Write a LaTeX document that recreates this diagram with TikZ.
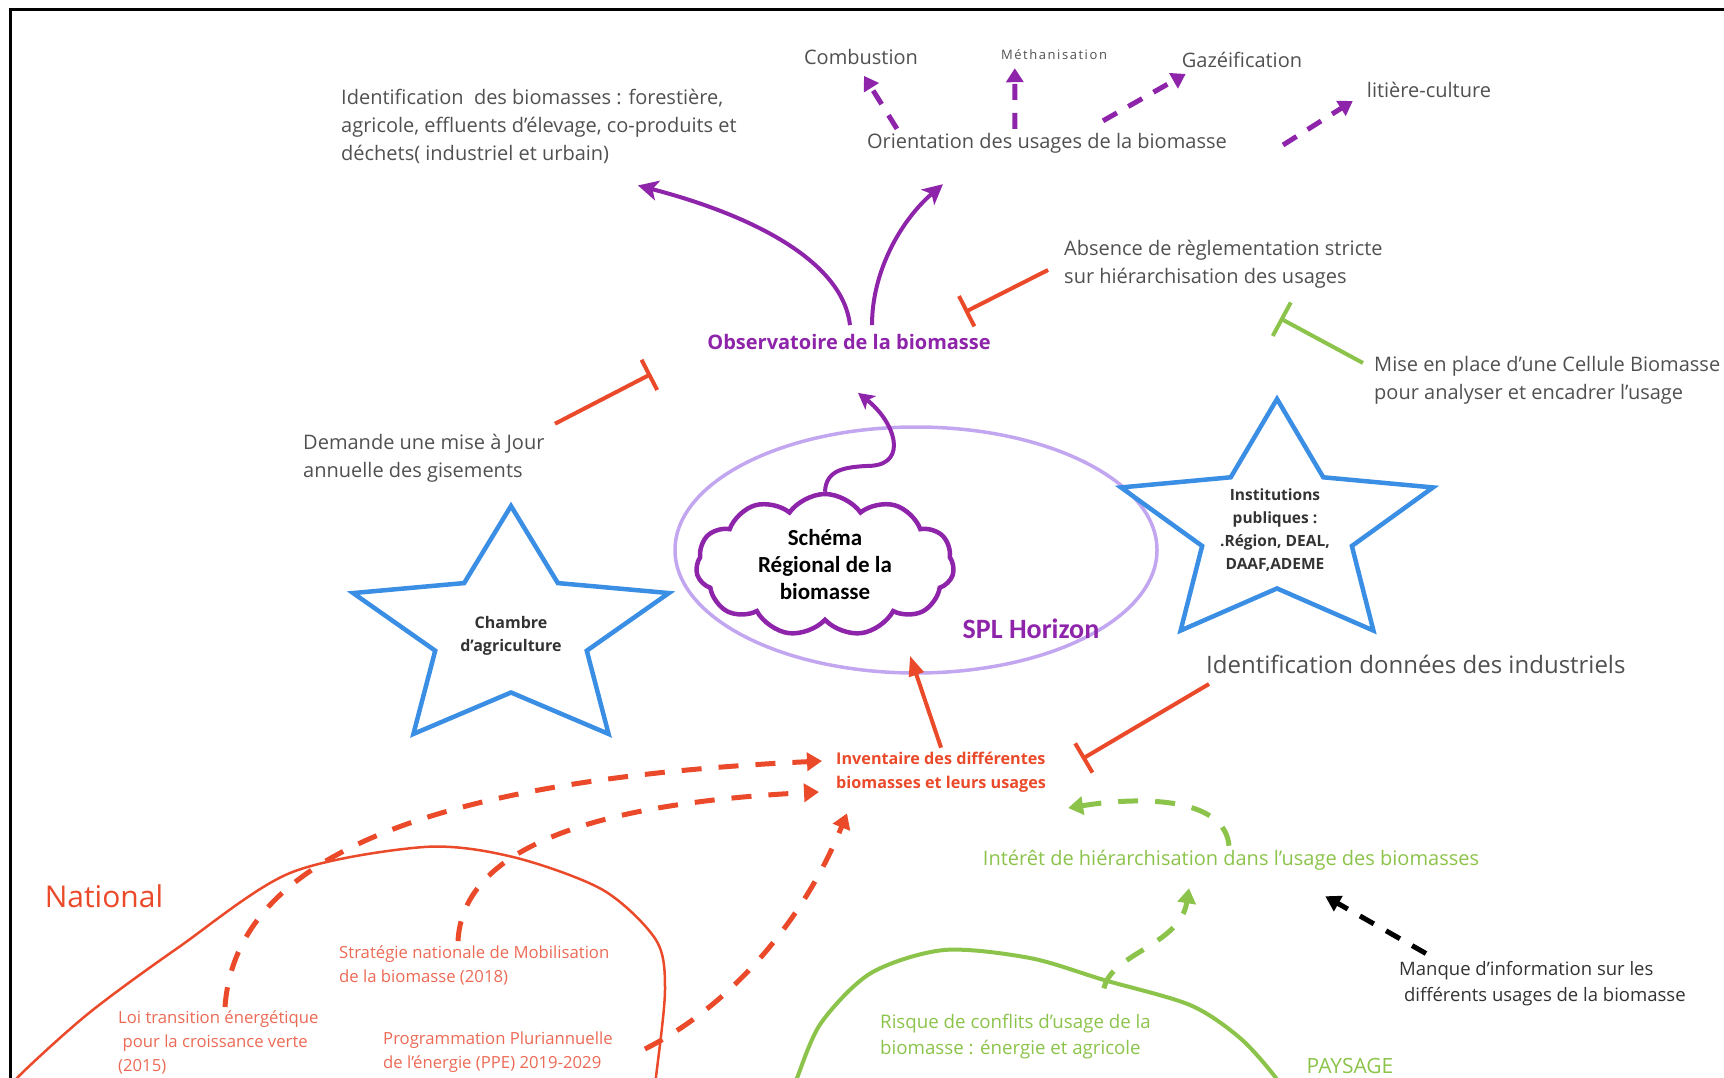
\documentclass[tikz,border=0pt]{standalone}
\usepackage{fontspec}
\setmainfont{Open Sans}
\newfontfamily\calibfont{Carlito}
\newfontfamily\spacedfont[LetterSpace=12]{Open Sans}
\usetikzlibrary{shapes.geometric, shapes.symbols, arrows.meta, positioning, calc}
\definecolor{txtgray}{HTML}{505050}
\definecolor{purp}{HTML}{8E24AA}
\definecolor{lavender}{HTML}{C2A6EF}
\definecolor{redo}{HTML}{EA4A2A}
\definecolor{salmon}{HTML}{EC6A55}
\definecolor{greenl}{HTML}{8CC34B}
\definecolor{bluestar}{HTML}{3A8EE4}
\tikzset{
	usedash/.style={draw=purp, line width=5pt, dash pattern=on 16pt off 13pt, -{Triangle[length=14pt, width=17pt]}},
	purparrow/.style={draw=purp, line width=4pt, -{Stealth[length=20pt, width=20pt, inset=5pt]}},
	redbar/.style={draw=redo, line width=4pt, -{Bar[width=34pt]}},
	greenbar/.style={draw=greenl, line width=4pt, -{Bar[width=38pt]}},
	reddash/.style={draw=redo, line width=5pt, dash pattern=on 20pt off 17pt, -{Triangle[length=15pt, width=18pt]}},
	greendash/.style={draw=greenl, line width=5pt, dash pattern=on 20pt off 17pt, -{Triangle[length=15pt, width=18pt]}}
}

\begin{document}
\begin{tikzpicture}[x=1pt, y=-1pt,
		graytxt/.style={text=txtgray, font={\fontsize{20}{28}\selectfont}, inner sep=0pt, align=left},
		startxt/.style={text=black!80, font={\bfseries\fontsize{16}{23}\selectfont}, inner sep=0pt, align=center},
		redtxt/.style={text=salmon, font={\fontsize{16.7}{24}\selectfont}, inner sep=0pt, align=left},
		greentxt/.style={text=greenl, font={\fontsize{18.7}{26}\selectfont}, inner sep=0pt, align=left},
		starline/.style={draw=bluestar, line width=4.5pt}
	]
	\useasboundingbox (0,0) rectangle (1724,1078);
	
	% --- Frame ---
	\draw[line width=3pt] (10,1100) -- (10,10) -- (1750,10);
	
	% --- Top: identification and usages ---
	\node[graytxt, anchor=west] (ident) at (341,126) {Identification\ \ des biomasses : forestière,\\agricole, effluents d'élevage, co-produits et\\déchets( industriel et urbain)};
	\node[graytxt] (combust) at (861,57) {Combustion};
	\node[graytxt, font={\spacedfont\fontsize{13}{15}\selectfont}] (metha) at (1054,55) {Méthanisation};
	\node[graytxt] (gazei) at (1242,60) {Gazéification};
	\node[graytxt] (litiere) at (1429,90) {litière-culture};
	\node[graytxt] (orient) at (1047,143) {Orientation des usages de la biomasse};
	
	\draw[usedash] ([shift={(30,-4)}]orient.north west) -- ([shift={(3,11)}]combust.south);
	\draw[usedash] ([shift={(148,-4)}]orient.north west) -- ([shift={(14,8)}]metha.south west);
	\draw[usedash] ([shift={(56,-12)}]orient.north) -- ([shift={(4,6)}]gazei.south west);
	\draw[usedash] ([shift={(56,2)}]orient.east) -- ([shift={(-14,11)}]litiere.west);
	
	% --- Observatoire ---
	\node[font={\bfseries\fontsize{20}{24}\selectfont}, text=purp, inner sep=0pt] (obs) at (849,342) {Observatoire de la biomasse};
	\draw[purparrow] ([shift={(1,-9)}]obs.north) .. controls +(-7,-62) and +(119,31) .. ([shift={(99,22)}]ident.south);
	\draw[purparrow] ([shift={(23,-9)}]obs.north) .. controls +(0,-54) and +(-42,36) .. ([shift={(76,31)}]orient.south west);
	
	% --- SPL zone and regional scheme ---
	\node[ellipse, draw=lavender, line width=3.5pt, minimum width=482pt, minimum height=246pt] (splzone) at (916,550) {};
	\node[cloud, draw=purp, line width=4.5pt, cloud puffs=11, cloud puff arc=110, aspect=1.8, minimum width=258pt, minimum height=142pt, inner sep=0pt, align=center, font={\calibfont\bfseries\fontsize{23}{27}\selectfont}] (schema) at (825,565) {Schéma\\Régional de la\\biomasse};
	\node[font={\calibfont\bfseries\fontsize{28}{30}\selectfont}, text=purp, inner sep=0pt] (spl) at (1031,629) {SPL Horizon};
	\draw[purparrow, -{Stealth[length=16pt, width=17pt, inset=4pt]}] (schema.north) .. controls +(1,-22) and +(-28,1) .. ++(47,-26) .. controls +(36,-3) and +(37,29) .. ([shift={(9,43)}]obs.south);
	
	% --- Stars ---
	\foreach \cx/\cy/\rx/\ry in {511/632/166/126, 1277/527/164/128}{
		\draw[starline] (\cx,\cy-\ry)
		\foreach \k in {1,...,9}{
			-- ({\cx+\rx*(1-0.52*mod(\k,2))*cos(90+36*\k)}, {\cy-\ry*(1-0.52*mod(\k,2))*sin(90+36*\k)})
		} -- cycle;
	}
	\node[startxt] (chambre) at (511,636) {Chambre\\d'agriculture};
	\node[startxt, font={\bfseries\fontsize{15.5}{23}\selectfont}] (institutions) at (1275,530) {Institutions\\publiques :\\.Région, DEAL,\\DAAF,ADEME};
	
	% --- Inventory ---
	\node[font={\bfseries\fontsize{16.2}{24}\selectfont}, text=redo, inner sep=0pt, align=left, anchor=west] (invent) at (836,772) {Inventaire des différentes\\biomasses et leurs usages};
	\draw[draw=redo, line width=4pt, -{Triangle[length=20pt, width=15pt]}] ([shift={(0,-4)}]invent.north) -- ([shift={(-6,-19)}]splzone.south);
	
	% --- Blocking factors ---
	\node[graytxt, anchor=west] (absence) at (1064,264) {Absence de règlementation stricte\\sur hiérarchisation des usages};
	\draw[redbar] ([shift={(-16,6)}]absence.west) -- ([shift={(-26,-22)}]obs.north east);
	\node[graytxt, anchor=west] (cellule) at (1374,380) {Mise en place d'une Cellule Biomasse\\pour analyser et encadrer l'usage};
	\draw[greenbar] ([shift={(-11,-17)}]cellule.west) -- ([shift={(216,30)}]absence.south west);
	\node[graytxt, anchor=west] (demande) at (303,458) {Demande une mise à Jour\\annuelle des gisements};
	\draw[redbar] ([shift={(252,-10)}]demande.north west) -- ([shift={(-56,32)}]obs.west);
	\node[graytxt, anchor=west, font={\fontsize{24}{28}\selectfont}] (indus) at (1206,664) {Identification données des industriels};
	\draw[redbar] ([shift={(3,20)}]indus.west) -- ([shift={(36,-13)}]invent.east);
	
	% --- National ---
	\node[text=redo, font={\fontsize{30}{32}\selectfont}, inner sep=0pt] (national) at (104,896) {National};
	\draw[redo, line width=2.5pt] plot[smooth] coordinates {(5,1098) (18,1077) (89,1013) (179,947) (290,873) (424,847) (513,857) (603,890) (656,940) (665,990) (656,1077) (653,1098)};
	\node[redtxt, anchor=west] (loi) at (118,1042) {Loi transition énergétique\\\ pour la croissance verte\\(2015)};
	\node[redtxt, anchor=west] (strat) at (339,965) {Stratégie nationale de Mobilisation\\de la biomasse (2018)};
	\node[redtxt, anchor=west] (progr) at (383,1052) {Programmation Pluriannuelle\\de l'énergie (PPE) 2019-2029};
	\draw[reddash] ([shift={(107,-3)}]loi.north west) .. controls +(10,-146) and +(-402,19) .. ([shift={(-14,-11)}]invent.west);
	\draw[reddash] ([shift={(119,-4)}]strat.north west) .. controls +(4,-80) and +(-259,13) .. ([shift={(-17,20)}]invent.west);
	\draw[reddash] ([shift={(32,-3)}]progr.east) .. controls +(78,-39) and +(-47,116) .. ([shift={(11,21)}]invent.south west);
	
	% --- Landscape (hierarchy) ---
	\node[greentxt, font={\fontsize{20}{26}\selectfont}] (interet) at (1231,860) {Intérêt de hiérarchisation dans l'usage des biomasses};
	\draw[greendash] ([shift={(-2,-4)}]interet.north) .. controls +(-4,-46) and +(81,-13) .. ([shift={(22,36)}]invent.east);
	\node[greentxt, anchor=west] (risque) at (880,1037) {Risque de conflits d'usage de la\\biomasse : énergie et agricole};
	\draw[greenl, line width=4pt] plot[smooth] coordinates {(790,1098) (797,1078) (821,1023) (871,973) (944,950) (1030,958) (1104,980) (1190,1005) (1240,1038) (1276,1078) (1285,1098)};
	\draw[greendash] ([shift={(224,-26)}]risque.north west) .. controls +(7,-35) and +(-9,57) .. ([shift={(-42,18)}]interet.south);
	\node[text=greenl, font={\fontsize{21}{24}\selectfont}, inner sep=0pt] (paysage) at (1350,1066) {PAYSAGE};
	
	% --- Missing information ---
	\node[text=black!80, font={\fontsize{18.5}{26}\selectfont}, inner sep=0pt, align=left, anchor=west] (manque) at (1399,984) {Manque d'information sur les\\\ différents usages de la biomasse};
	\draw[draw=black, line width=5pt, dash pattern=on 16pt off 14pt, -{Triangle[length=15pt, width=17pt]}] ([shift={(27,-8)}]manque.north west) -- ([shift={(-154,26)}]interet.south east);
\end{tikzpicture}
\end{document}
